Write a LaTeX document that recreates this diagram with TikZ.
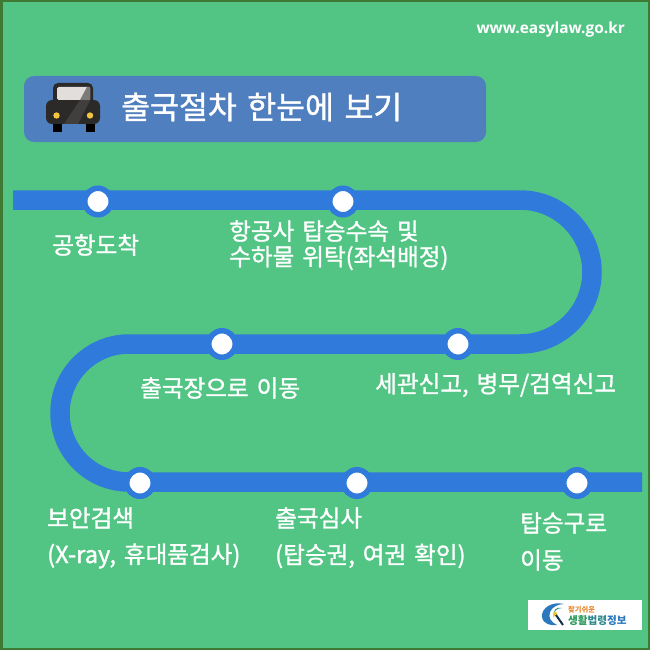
\documentclass[tikz,border=0pt]{standalone}
\usepackage{fontspec}
\setmainfont[WordSpace=1.5,FakeBold=1.2]{Noto Sans CJK KR}
\newfontfamily\logofont{Noto Sans CJK KR}
\newfontfamily\urlfont{Open Sans}
\definecolor{bgc}{HTML}{52C585}
\definecolor{edgec}{HTML}{3F7A35}
\definecolor{titlec}{HTML}{4F7FBE}
\definecolor{trackc}{HTML}{2F7ADB}
\definecolor{carc}{HTML}{2B2A28}
\definecolor{glassc}{HTML}{E2DEDC}
\definecolor{lampc}{HTML}{F2C53D}
\definecolor{orangec}{HTML}{E8872B}
\definecolor{greenc}{HTML}{2E9A5A}
\definecolor{bluec}{HTML}{2A78BD}
\tikzset{
  x=1pt,y=-1pt,
  stopdot/.style={circle,draw=trackc,line width=5.5pt,fill=white,minimum size=26.5pt,inner sep=0pt},
  label/.style={text=white,anchor=west,inner sep=0pt,font=\fontsize{23.6}{26}\selectfont},
  track/.style={draw=trackc,line width=19.5pt,line join=round}
}
\begin{document}
\begin{tikzpicture}
\useasboundingbox (0,0) rectangle (650,650);
\fill[edgec] (0,0) rectangle (650,650);
\fill[bgc] (2.5,2.5) rectangle (647.5,647.5);
% URL
\node[text=white,anchor=east,inner sep=0pt,font=\urlfont\fontsize{15.4}{18}\selectfont\bfseries] (url) at (625,29.5) {www.easylaw.go.kr};
% title
\fill[titlec,rounded corners=10pt] (24,76) rectangle (486,142);
\node[text=white,anchor=west,inner sep=0pt,font=\fontsize{31.4}{36}\selectfont] (title) at (121,107) {출국절차 한눈에 보기};
% car
\fill[black] (53,120) rectangle (62,132);
\fill[black] (86,120) rectangle (95,132);
\fill[carc,rounded corners=5pt] (53,83) rectangle (93,105);
\fill[carc,rounded corners=6pt] (46,100) rectangle (100,124);
\fill[glassc,rounded corners=1.5pt] (57,87) rectangle (90,100);
\fill[black!45!glassc] (80,100) -- (87,87) -- (90,87) -- (90,100) -- cycle;
\fill[white,opacity=.1] (64,124) -- (80,100) -- (90,100) -- (78,124) -- cycle;
\fill[lampc] (56.5,115.5) circle (3.2);
\fill[lampc] (90,115.5) circle (3.2);
% track
\draw[track] (13,200) -- (520,200) arc[start angle=-90,end angle=90,radius=72] -- (129,344) arc[start angle=270,end angle=90,radius=69] -- (642,482);
% stops
\node[stopdot] (s1) at (98,201.5) {};
\node[stopdot] (s2) at (343,201.5) {};
\node[stopdot] (s3) at (222,344) {};
\node[stopdot] (s4) at (458,344) {};
\node[stopdot] (s5) at (140,483) {};
\node[stopdot] (s6) at (357,483) {};
\node[stopdot] (s7) at (577,483) {};
% labels
\node[label] (l1) at (52,245) {공항도착};
\node[label] (l2a) at (229,231) {항공사 탑승수속 및};
\node[label] (l2b) at (229,258) {수하물 위탁(좌석배정)};
\node[label] (l3) at (140,388) {출국장으로 이동};
\node[label] (l4) at (375,385) {세관신고, 병무/검역신고};
\node[label] (l5a) at (47,518) {보안검색};
\node[label] (l5b) at (47,556) {(X-ray, 휴대품검사)};
\node[label] (l6a) at (275,518) {출국심사};
\node[label] (l6b) at (275,556) {(탑승권, 여권 확인)};
\node[label] (l7a) at (520,523) {탑승구로};
\node[label] (l7b) at (520,560) {이동};
% logo
\fill[white] (528,600) rectangle (642,630);
\fill[bluec] (564,604) .. controls (552,601) and (541,608) .. (542,617) .. controls (543,624) and (551,626) .. (557,625) .. controls (551,622) and (548,618) .. (550,612) .. controls (552,607) and (558,604) .. (564,604) -- cycle;
\fill[greenc!70!bluec] (562,608) .. controls (556,608) and (553,612) .. (554,618) .. controls (552,611) and (556,606) .. (562,608) -- cycle;
\fill[lampc] (555,614) circle (2.2);
\draw[black!60!bluec,line width=2pt] (556,615) -- (563,625);
\node[text=orangec,anchor=west,inner sep=0pt,font=\logofont\fontsize{7.3}{8}\selectfont\bfseries] (logo1) at (568,609.5) {찾기쉬운};
\node[anchor=west,inner sep=0pt,font=\logofont\fontsize{10.6}{12}\selectfont\bfseries] (logo2) at (568,620.5) {\textcolor{greenc}{생활}\textcolor{greenc!50!bluec}{법령}\textcolor{bluec}{정보}};
\end{tikzpicture}
\end{document}
